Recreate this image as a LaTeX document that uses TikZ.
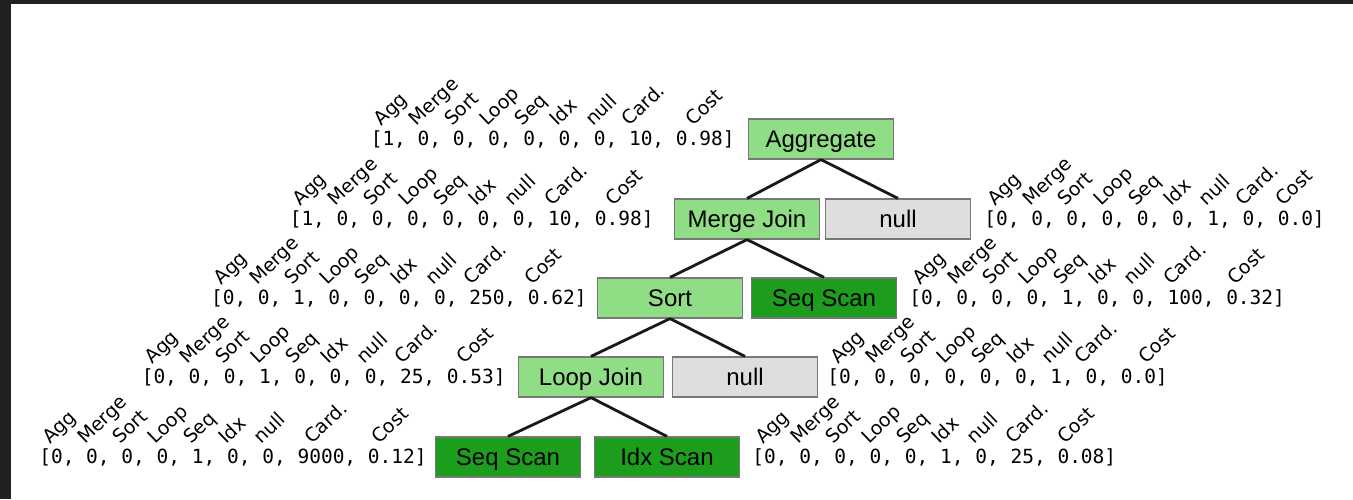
\documentclass[tikz,border=0pt]{standalone}
\usepackage{fontspec}
\setmainfont{Liberation Sans}
\setmonofont{DejaVu Sans Mono}
\newfontfamily\labfont{DejaVu Sans}
\usetikzlibrary{positioning,calc}
\definecolor{OpLight}{HTML}{8FDD84}
\definecolor{OpDark}{HTML}{1C9E1C}
\definecolor{OpNull}{HTML}{DEDEDE}
\definecolor{OpEdge}{HTML}{787878}
\definecolor{FrameDark}{HTML}{202020}

% rotated feature names over one encoding vector
% #1 vector node, #2 shift of Card., #3 shift of Cost
\newcommand{\featnames}[3]{%
  \foreach \lab [count=\i from 0] in {Agg,Merge,Sort,Loop,Seq,Idx,null}
    \node[featlab] at ($(#1.base west)+(11+35.25*\i,-18)$) {\lab};
  \node[featlab] at ($(#1.base west)+(#2,-18)$) {Card.};
  \node[featlab] at ($(#1.base west)+(#3,-18)$) {Cost};
}

\begin{document}
\begin{tikzpicture}[x=1pt,y=-1pt,
    opbox/.style={draw=OpEdge,line width=1.2pt,minimum width=145pt,
      minimum height=40pt,inner sep=0pt,text height=17pt,text depth=0pt,
      font=\fontsize{24}{24}\selectfont},
    light/.style={opbox,fill=OpLight},
    dark/.style={opbox,fill=OpDark},
    nil/.style={opbox,fill=OpNull},
    vec/.style={inner sep=0pt,font=\ttfamily\fontsize{19.5}{20}\selectfont},
    featlab/.style={inner sep=0pt,anchor=base west,rotate=44,
      font=\labfont\fontsize{19}{19}\selectfont},
    edge/.style={line width=2.8pt,black!90}]
  % frame
  \fill[FrameDark] (0,0) rectangle (1353,499);
  \fill[white] (11,4) rectangle (1353,499);
  \useasboundingbox (0,0) rectangle (1353,499);

  % plan tree
  \node[light] (agg) at (821,139) {Aggregate};
  \node[light] (mj)  at (747,219) {Merge Join};
  \node[nil]   (n1)  at (898,219) {null};
  \node[light] (srt) at (670,298) {Sort};
  \node[dark]  (ss1) at (824,298) {Seq Scan};
  \node[light] (lj)  at (591,377) {Loop Join};
  \node[nil]   (n2)  at (745,377) {null};
  \node[dark]  (ss2) at (508,457) {Seq Scan};
  \node[dark]  (ix)  at (667,457) {Idx Scan};

  \draw[edge] (agg.south) -- (mj.north);
  \draw[edge] (agg.south) -- (n1.north);
  \draw[edge] (mj.south) -- (srt.north);
  \draw[edge] (mj.south) -- (ss1.north);
  \draw[edge] (srt.south) -- (lj.north);
  \draw[edge] (srt.south) -- (n2.north);
  \draw[edge] (lj.south) -- (ss2.north);
  \draw[edge] (lj.south) -- (ix.north);

  % encodings
  \node[vec,left=13pt of agg]  (vagg) {[1, 0, 0, 0, 0, 0, 0, 10, 0.98]};
  \node[vec,left=20pt of mj]   (vmj)  {[1, 0, 0, 0, 0, 0, 0, 10, 0.98]};
  \node[vec,right=13pt of n1]  (vn1)  {[0, 0, 0, 0, 0, 0, 1, 0, 0.0]};
  \node[vec,left=10pt of srt]  (vsrt) {[0, 0, 1, 0, 0, 0, 0, 250, 0.62]};
  \node[vec,right=12pt of ss1] (vss1) {[0, 0, 0, 0, 1, 0, 0, 100, 0.32]};
  \node[vec,left=12pt of lj]   (vlj)  {[0, 0, 0, 1, 0, 0, 0, 25, 0.53]};
  \node[vec,right=9pt of n2]   (vn2)  {[0, 0, 0, 0, 0, 0, 1, 0, 0.0]};
  \node[vec,left=8pt of ss2]   (vss2) {[0, 0, 0, 0, 1, 0, 0, 9000, 0.12]};
  \node[vec,right=12pt of ix]  (vix)  {[0, 0, 0, 0, 0, 1, 0, 25, 0.08]};

  \featnames{vagg}{259}{323}
  \featnames{vmj}{263}{324}
  \featnames{vn1}{259}{299}
  \featnames{vsrt}{261}{322}
  \featnames{vss1}{262}{326}
  \featnames{vlj}{261}{323}
  \featnames{vn2}{255}{319}
  \featnames{vss2}{273}{340}
  \featnames{vix}{261}{313}
\end{tikzpicture}
\end{document}
